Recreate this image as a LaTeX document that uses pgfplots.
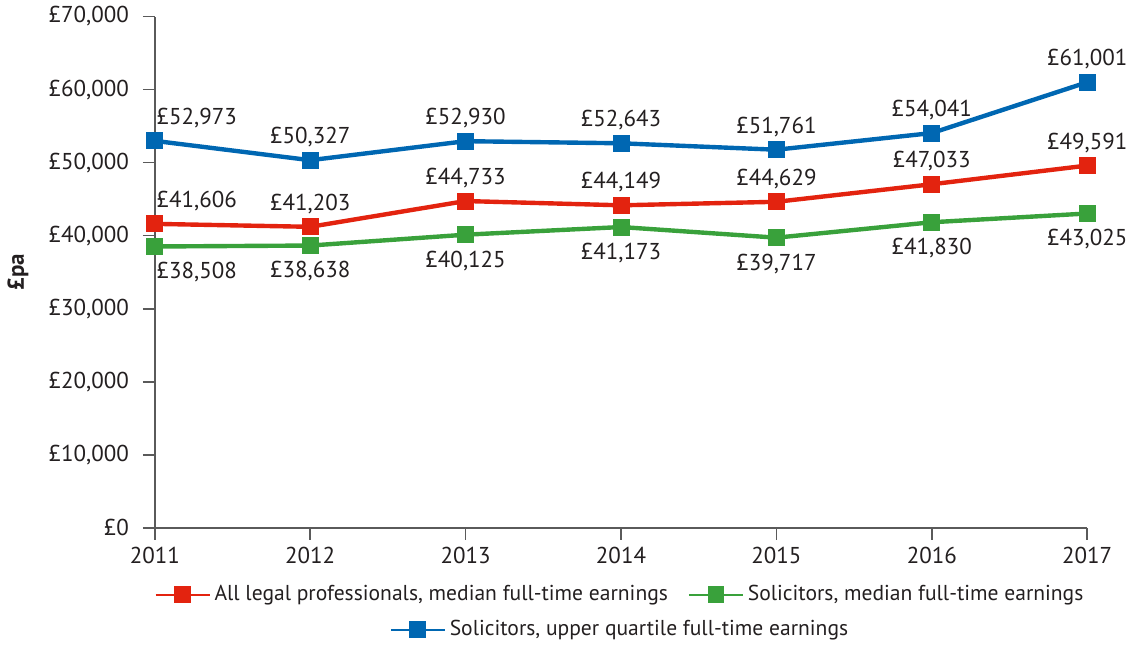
\documentclass[border=0pt]{standalone}
\usepackage{pgfplots}
\pgfplotsset{compat=1.18}
\usepackage{fontspec}
\setmainfont{PT Sans}
\definecolor{cblue}{RGB}{0,103,178}
\definecolor{cred}{RGB}{227,35,15}
\definecolor{cgreen}{RGB}{57,161,59}
\definecolor{axgray}{RGB}{90,90,90}
\definecolor{txt}{RGB}{35,31,32}
\newcommand{\chartfont}{\fontsize{11.5}{13}\selectfont}
\newcommand{\legfont}{\fontsize{10.8}{13}\selectfont}
\pgfplotsset{
  mylegimg/.style={legend image code/.code={\draw[mark repeat=2,mark phase=2,##1,line width=1pt] plot coordinates {(0pt,0pt)(13.5pt,0pt)(27pt,0pt)};}},
  serie/.style={color=#1, line width=2.2pt, mark=square*, mark size=4pt, mark options={line width=0.4pt, fill=#1, draw=#1}},
  lababove/.style={nodes near coords={£\pgfmathprintnumber[fixed,precision=0,1000 sep={,}]{\pgfplotspointmeta}},
    visualization depends on={rawx \as \rx},
    every node near coord/.style={anchor=base, text=txt, font=\chartfont, yshift=8.25pt, xshift={(\rx<2011.5)*21pt}}},
  labbelow/.style={nodes near coords={£\pgfmathprintnumber[fixed,precision=0,1000 sep={,}]{\pgfplotspointmeta}},
    visualization depends on={rawx \as \rx},
    every node near coord/.style={anchor=base, text=txt, font=\chartfont, yshift=-16.25pt, xshift={(\rx<2011.5)*21pt}}},
  common/.style={scale only axis, width=467pt, height=256pt, font=\chartfont, clip=false,
    /pgf/number format/assume math mode=true,
    legend style={draw=none, fill=none, font=\legfont, text=txt, anchor=center,
      /tikz/every even column/.append style={column sep=8pt}},
    legend cell align=left, mylegimg},
}
\begin{document}
\begin{tikzpicture}
\begin{axis}[common,
  xmin=2011, xmax=2017, ymin=0, ymax=70000,
  axis x line*=bottom, axis y line*=left,
  axis line style={axgray, line width=0.9pt},
  xtick={2011,2012,2013,2014,2015,2016,2017},
  xticklabels={2011,2012,2013,2014,2015,2016,2017},
  ytick={0,10000,20000,30000,40000,50000,60000,70000},
  scaled y ticks=false,
  yticklabel={£\pgfmathprintnumber[fixed,precision=0,1000 sep={,}]{\tick}},
  yticklabel style={xshift=-3.5pt},
  tick align=outside, major tick length=6pt,
  tick style={axgray, line width=0.9pt},
  tick label style={text=txt},
  ylabel={\textbf{£pa}},
  ylabel style={at={(rel axis cs:-0.1467,0.5)}, anchor=center, text=txt},
  legend columns=2,
  legend style={at={(0.5,-0.1309)}},
]
\path (rel axis cs:-0.166,-0.2266) rectangle (rel axis cs:1.048,1.03125);
\addplot[serie=cred, lababove] coordinates {(2011,41606) (2012,41203) (2013,44733) (2014,44149) (2015,44629) (2016,47033) (2017,49591)};
\addlegendentry{All legal professionals, median full-time earnings}
\addplot[serie=cgreen, labbelow] coordinates {(2011,38508) (2012,38638) (2013,40125) (2014,41173) (2015,39717) (2016,41830) (2017,43025)};
\addlegendentry{Solicitors, median full-time earnings}
\addplot[serie=cblue, lababove, forget plot] coordinates {(2011,52973) (2012,50327) (2013,52930) (2014,52643) (2015,51761) (2016,54041) (2017,61001)};
\end{axis}
\begin{axis}[common, hide axis, xmin=0, xmax=1, ymin=0, ymax=1,
  legend style={at={(0.5,-0.1992)}}]
\addlegendimage{serie=cblue}
\addlegendentry{Solicitors, upper quartile full-time earnings}
\end{axis}
\end{tikzpicture}
\end{document}
